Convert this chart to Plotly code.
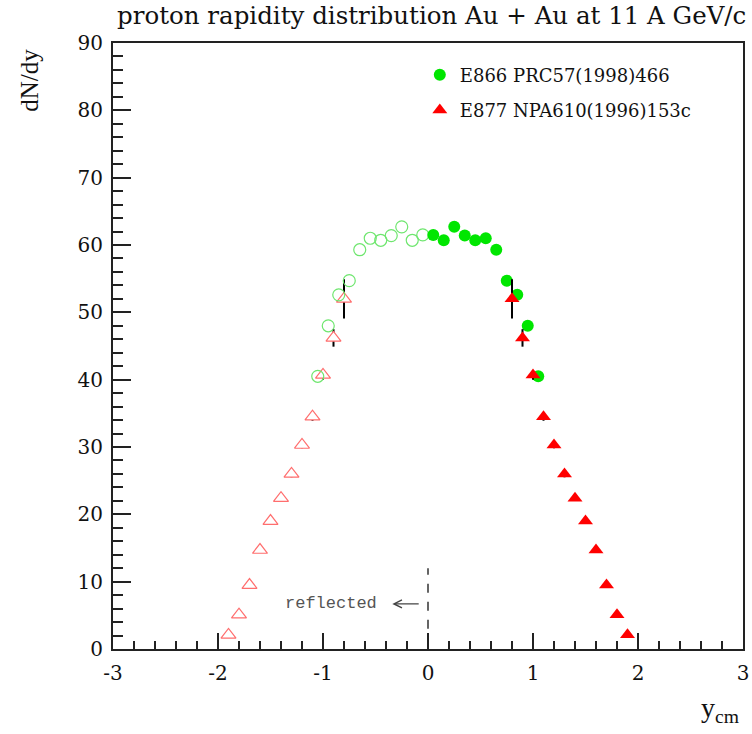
import plotly.graph_objects as go

# ---- data ----
e866_y = [0.05, 0.15, 0.25, 0.35, 0.45, 0.55, 0.65, 0.75, 0.85, 0.95, 1.05]
e866_dndy = [61.5, 60.7, 62.7, 61.4, 60.7, 61.0, 59.3, 54.7, 52.6, 48.0, 40.5]

e877_y = [0.8, 0.9, 1.0, 1.1, 1.2, 1.3, 1.4, 1.5, 1.6, 1.7, 1.8, 1.9]
e877_dndy = [52.0, 46.2, 40.7, 34.5, 30.3, 26.0, 22.4, 19.0, 14.7, 9.5, 5.1, 2.1]
e877_err = [2.9, 1.3, 0.7, 0.6, 0.5, 0.5, 0.4, 0.4, 0.3, 0.3, 0.2, 0.2]

# reflected points (shown open, at negative rapidity)
e866_y_refl = [-v for v in e866_y]
e877_y_refl = [-v for v in e877_y]

x_ticks = [-3, -2, -1, 0, 1, 2, 3]
x_ticktext = ["-3", "-2", "-1", "0", "1", "2", "3"]
y_ticks = [0, 10, 20, 30, 40, 50, 60, 70, 80, 90]

SERIF = "DejaVu Serif"
GREEN = "#00e600"
RED = "#ff0000"
OPEN_RED = "rgb(255,110,110)"
OPEN_GREEN = "rgb(110,230,110)"

fig = go.Figure()

# reflected (open) markers
fig.add_trace(go.Scatter(
    x=e877_y_refl, y=e877_dndy, mode="markers", showlegend=False,
    error_y=dict(type="data", array=e877_err, color="black", thickness=2, width=0),
    marker=dict(symbol="triangle-up", size=13, color="white",
                line=dict(width=1.2, color=OPEN_RED)),
))
fig.add_trace(go.Scatter(
    x=e866_y_refl, y=e866_dndy, mode="markers", showlegend=False,
    marker=dict(symbol="circle-open", size=12, color=OPEN_GREEN,
                line=dict(width=1.2, color=OPEN_GREEN)),
))

# measured (filled) markers
fig.add_trace(go.Scatter(
    x=e866_y, y=e866_dndy, mode="markers", name="E866 PRC57(1998)466",
    legend="legend",
    marker=dict(symbol="circle", size=12, color=GREEN),
))
fig.add_trace(go.Scatter(
    x=e877_y, y=e877_dndy, mode="markers", name="E877 NPA610(1996)153c",
    legend="legend2",
    error_y=dict(type="data", array=e877_err, color="black", thickness=2, width=0),
    marker=dict(symbol="triangle-up", size=13, color=RED),
))

axis_common = dict(
    showgrid=False, zeroline=False, showline=True, linecolor="#222",
    linewidth=2, mirror=True, ticks="inside", tickcolor="#222",
    tickwidth=1.5, automargin=False,
    tickfont=dict(family=SERIF, size=20, color="#111"),
)

fig.update_xaxes(range=[-3, 3], tickvals=x_ticks, ticktext=x_ticktext, ticklen=16,
                 minor=dict(dtick=0.2, ticks="inside", ticklen=8, tickcolor="#222", tickwidth=1.5),
                 ticklabelstandoff=5, **axis_common)
fig.update_yaxes(range=[0, 90], tickvals=y_ticks, ticklen=18,
                 minor=dict(dtick=2, ticks="inside", ticklen=10, tickcolor="#222", tickwidth=1.5),
                 ticklabelstandoff=4, **axis_common)

fig.update_layout(
    width=752, height=734,
    margin=dict(l=113, r=9, t=43, b=85),
    paper_bgcolor="white", plot_bgcolor="white",
    legend=dict(x=0.487, y=0.947, xanchor="left", yanchor="middle",
                bgcolor="rgba(0,0,0,0)", font=dict(family=SERIF, size=18, color="#111")),
    legend2=dict(x=0.487, y=0.889, xanchor="left", yanchor="middle",
                 bgcolor="rgba(0,0,0,0)", font=dict(family=SERIF, size=18, color="#111")),
)

# title
fig.add_annotation(text="proton rapidity distribution Au + Au at 11 A GeV/c",
                   xref="paper", yref="paper", x=0.003, y=1.046,
                   xanchor="left", yanchor="middle", showarrow=False,
                   font=dict(family=SERIF, size=24.5, color="#111"))
# y-axis title
fig.add_annotation(text="dN/dy", xref="paper", yref="paper",
                   x=-0.132, y=0.939, xanchor="center", yanchor="middle",
                   textangle=-90, showarrow=False,
                   font=dict(family="Liberation Serif", size=25, color="#111"))
# x-axis title
fig.add_annotation(text="y<sub>cm</sub>", xref="paper", yref="paper",
                   x=0.963, y=-0.100, xanchor="center", yanchor="middle",
                   showarrow=False, font=dict(family="Liberation Serif", size=28, color="#111"))

# "reflected" marker: dashed line at y_cm = 0 and arrow
fig.add_shape(type="line", x0=0, x1=0, y0=3, y1=12, xref="x", yref="y",
              line=dict(color="#333", width=1.5, dash="dash"))
fig.add_annotation(text="reflected", x=-0.47, y=6.7, xref="x", yref="y",
                   xanchor="right", yanchor="middle", showarrow=False,
                   font=dict(family="Liberation Mono", size=17, color="#555"))
fig.add_annotation(text=" ", x=-0.34, y=6.7, ax=-0.06, ay=6.7,
                   xref="x", yref="y", axref="x", ayref="y",
                   showarrow=True, arrowhead=5, arrowsize=1.2, arrowwidth=1.3,
                   arrowcolor="#444")

fig.write_html("out.html", config={"displayModeBar": False},
               post_script="document.body.style.margin='0';")
